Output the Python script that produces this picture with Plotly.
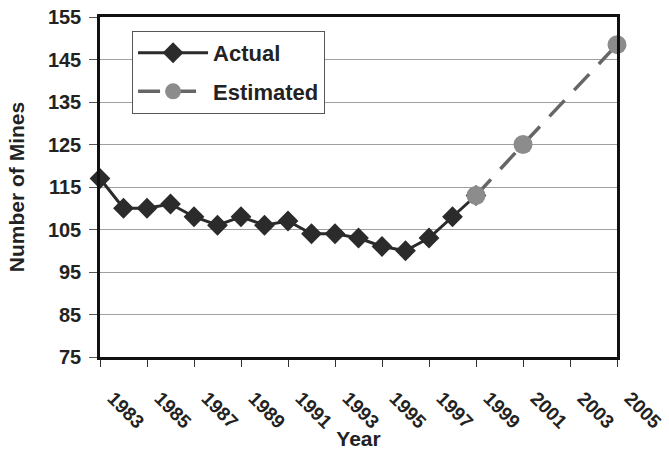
import plotly.graph_objects as go

actual_years = list(range(1983, 2000))
actual_values = [117, 110, 110, 111, 108, 106, 108, 106, 107, 104, 104, 103, 101, 100, 103, 108, 113]
est_years = [1999, 2001, 2005]
est_values = [113, 125, 148.5]
x_ticks = list(range(1983, 2006, 2))
y_ticks = list(range(75, 156, 10))

FONT = "Liberation Sans"

fig = go.Figure()
fig.add_trace(go.Scatter(
    x=actual_years, y=actual_values, mode="lines+markers", name="<b>Actual</b>",
    line=dict(color="#2b2b2b", width=3),
    marker=dict(symbol="diamond", size=16, color="#2b2b2b"),
    legendgroup="a", cliponaxis=False,
))
fig.add_trace(go.Scatter(
    x=est_years, y=est_values, mode="lines+markers", name="<b>Estimated</b>",
    line=dict(color="#666666", width=3.5, dash="22px,14px"),
    marker=dict(symbol="circle", size=19, color="#8c8c8c"),
    legendgroup="b", cliponaxis=False,
))

fig.update_layout(
    width=669, height=450,
    margin=dict(l=100, r=52, t=17, b=93),
    paper_bgcolor="white", plot_bgcolor="white",
    font=dict(family=FONT, color="#222", size=20),
    showlegend=True,
    legend=dict(
        x=0.062, y=0.959, xanchor="left", yanchor="top",
        bgcolor="white", bordercolor="#555", borderwidth=1,
        font=dict(size=22, family=FONT, color="#222"),
        itemwidth=70, tracegroupgap=7,
    ),
    xaxis=dict(
        range=[1983, 2005], tickmode="array", tickvals=x_ticks,
        ticktext=[f"<b>{t}</b>" for t in x_ticks],
        tickangle=45, ticks="outside", ticklen=7, tickcolor="#333",
        showline=True, linecolor="#111", linewidth=2.5, mirror=True,
        showgrid=False, zeroline=False, automargin=False,
        ticklabelstandoff=13, ticklabelshift=13, ticklabeloverflow="allow",
        title=dict(text="<b>Year</b>", font=dict(size=21), standoff=0),
        tickfont=dict(size=19),
    ),
    yaxis=dict(
        range=[75, 155], tickmode="array", tickvals=y_ticks,
        ticktext=[f"<b>{t}</b>" for t in y_ticks],
        ticks="outside", ticklen=8, tickcolor="#555",
        showline=True, linecolor="#111", linewidth=2.5, mirror=True,
        showgrid=True, gridcolor="#a0a0a0", gridwidth=1, zeroline=False,
        automargin=False, ticklabelstandoff=4, ticklabeloverflow="allow",
        title=dict(text="<b>Number of Mines</b>", font=dict(size=21), standoff=18),
        tickfont=dict(size=20),
    ),
)

fig.write_html("out.html", config={"displayModeBar": False},
               post_script="document.body.style.margin='0px';")
